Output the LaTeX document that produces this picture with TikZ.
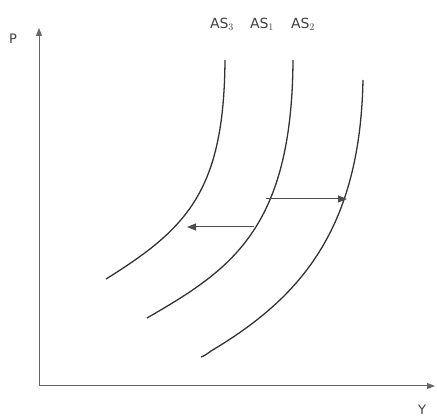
\documentclass[tikz,border=0pt]{standalone}
\usepackage{fontspec}
\setmainfont{DejaVu Sans}
\usetikzlibrary{arrows.meta}

\begin{document}
\begin{tikzpicture}[x=1pt,y=1pt,
  axis/.style={line width=1pt, black!60, -{Triangle[length=8pt,width=6pt]}},
  curve/.style={line width=1.3pt, black!80},
  shiftarrow/.style={line width=1pt, black!70, -{Triangle[length=9pt,width=7pt]}},
  lbl/.style={font=\fontsize{13}{15}\selectfont, inner sep=0pt, black!75}]
\useasboundingbox (0,0) rectangle (437,418);
% axes
\coordinate (o) at (39,32);
\coordinate (ptop) at (39,390);
\coordinate (yend) at (435,32);
\draw[axis] (o) -- (ptop);
\draw[axis] (o) -- (yend);
\node[lbl] (plab) at (13,379) {P};
\node[lbl] (ylab) at (422,8) {Y};
% supply curves
\draw[curve] (106,139) .. controls (188,190) and (224,228) .. (225,358);
\draw[curve] (147,100) .. controls (230,148) and (292,188) .. (293,358);
\draw[curve] (201,61) .. controls (204,62) and (207,64) .. (211,67)
  .. controls (300,120) and (360,188) .. (363,338);
% labels
\node[lbl, font=\fontsize{14}{16}\selectfont] (as3) at (222,394) {AS$_3$};
\node[lbl, font=\fontsize{14}{16}\selectfont] (as1) at (262,394) {AS$_1$};
\node[lbl, font=\fontsize{14}{16}\selectfont] (as2) at (303,394) {AS$_2$};
% shifts
\coordinate (la) at (254,191);
\coordinate (lb) at (187,191);
\coordinate (ra) at (266,219);
\coordinate (rb) at (347,219);
\draw[shiftarrow] (la) -- (lb);
\draw[shiftarrow] (ra) -- (rb);
\end{tikzpicture}
\end{document}
